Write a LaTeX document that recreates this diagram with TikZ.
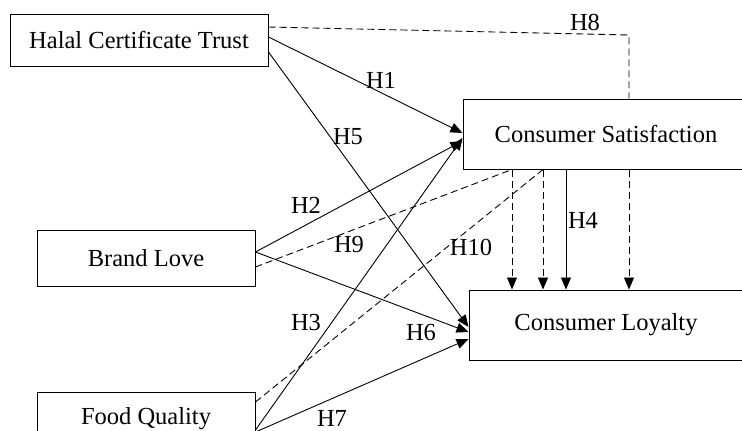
\documentclass[tikz,border=0pt]{standalone}
\usepackage{fontspec}
\setmainfont{Liberation Serif}
\usetikzlibrary{arrows.meta}
\begin{document}
\begin{tikzpicture}[x=1pt,y=-1pt,
  every node/.style={font=\fontsize{24.5}{28}\selectfont},
  box/.style={draw, line width=1pt, fill=white, inner sep=0pt},
  conn/.style={line width=0.9pt},
  dconn/.style={line width=0.9pt, dash pattern=on 7pt off 4pt},
  arr/.style={-{Triangle[length=12pt,width=10pt]}},
  lbl/.style={inner sep=0pt}]
\clip (0,0) rectangle (742,431);
\fill[white] (0,0) rectangle (742,431);
% boxes
\node[box, minimum width=258pt, minimum height=52pt] (halal) at (139,40) {Halal Certificate Trust};
\node[box, minimum width=286pt, minimum height=70pt] (cs) at (606,134) {Consumer Satisfaction};
\node[box, minimum width=218pt, minimum height=56pt] (bl) at (146,258) {Brand Love};
\node[box, minimum width=274pt, minimum height=70pt] (cl) at (606,325) {Consumer Loyalty};
\node[box, minimum width=218pt, minimum height=54pt] (fq) at (146,419) {Food Quality};
\coordinate (h8c) at (629,35);
% H8
\draw[dconn] ([yshift=13pt]halal.east) -- (h8c) -- ([xshift=23pt]cs.north);
\draw[dconn, arr] ([xshift=23pt]cs.south) -- ([xshift=23pt]cl.north);
% H1, H5
\draw[conn, arr] ([yshift=3pt]halal.east) -- ([yshift=1pt]cs.west);
\draw[conn, arr] ([yshift=-12pt]halal.east) -- ([yshift=-2pt]cl.west);
% H2, H6, H9
\draw[conn, arr] ([yshift=6pt]bl.east) -- ([yshift=-7pt]cs.west);
\draw[conn, arr] ([yshift=6pt]bl.east) -- ([yshift=-7pt]cl.west);
\draw[dconn] ([yshift=-9pt]bl.east) -- ([xshift=-94pt]cs.south);
\draw[dconn, arr] ([xshift=-94pt]cs.south) -- ([xshift=-94pt]cl.north);
% H3, H7, H10
\draw[conn, arr] ([yshift=-11pt]fq.east) -- ([yshift=-4pt]cs.west);
\draw[conn, arr] ([yshift=-13pt]fq.east) -- ([yshift=-14pt]cl.west);
\draw[dconn] ([yshift=17pt]fq.east) -- ([xshift=-63pt]cs.south);
\draw[dconn, arr] ([xshift=-63pt]cs.south) -- ([xshift=-63pt]cl.north);
% H4
\draw[conn, arr] ([xshift=-40pt]cs.south) -- ([xshift=-40pt]cl.north);
% labels
\node[lbl] (l1) at (381,80) {H1};
\node[lbl] (l2) at (306,205) {H2};
\node[lbl] (l3) at (306,323) {H3};
\node[lbl] (l4) at (583,220) {H4};
\node[lbl] (l5) at (348,137) {H5};
\node[lbl] (l6) at (421,333) {H6};
\node[lbl] (l7) at (332,418) {H7};
\node[lbl] (l8) at (585,22) {H8};
\node[lbl] (l9) at (349,245) {H9};
\node[lbl] (l10) at (471,247) {H10};
\end{tikzpicture}
\end{document}
